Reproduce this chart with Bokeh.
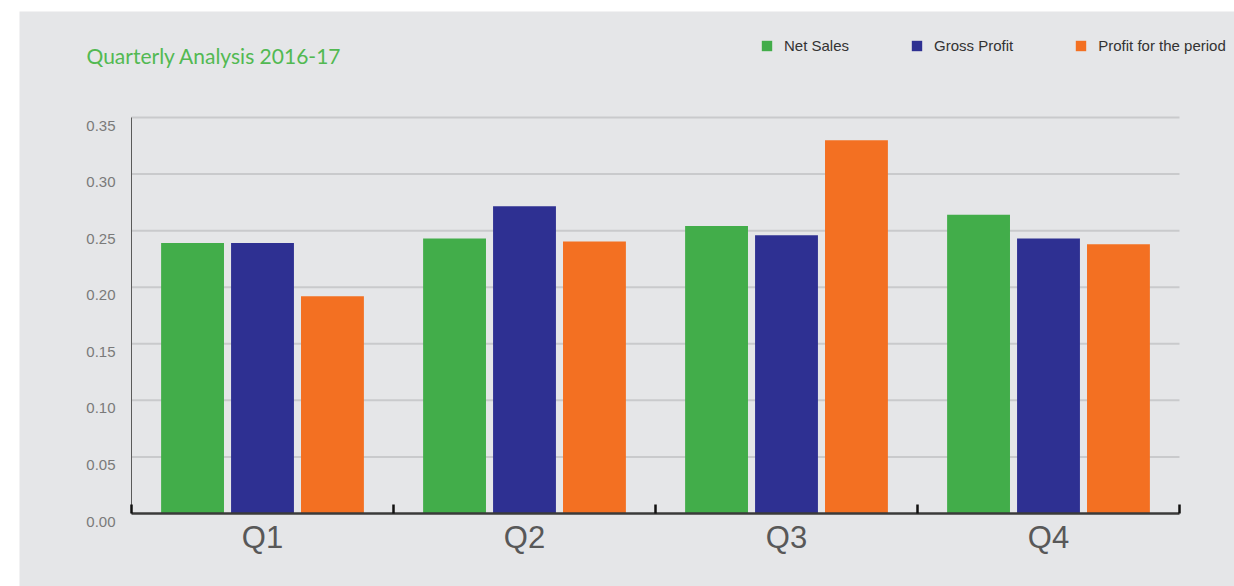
import math
from bokeh.plotting import figure
from bokeh.models import ColumnDataSource, Legend, LegendItem, Label, Spacer
from bokeh.layouts import column, row
from bokeh.transform import dodge
from bokeh.embed import file_html
from bokeh.resources import INLINE

quarters = ["Q1", "Q2", "Q3", "Q4"]
net_sales = [0.239, 0.243, 0.254, 0.264]
gross_profit = [0.239, 0.2715, 0.246, 0.243]
profit_period = [0.192, 0.2405, 0.330, 0.238]
series_names = ["Net Sales", "Gross Profit", "Profit for the period"]
series_colors = ["#42ad4a", "#2e3092", "#f37022"]
y_ticks = [0.0, 0.05, 0.10, 0.15, 0.20, 0.25, 0.30, 0.35]
title_text = "Quarterly Analysis 2016-17"

BG = "#e5e6e8"
W, H = 1215, 575          # figure size (page offset 19, 11)
FL, FB = 112, 73          # pixel position of the axes origin inside the figure
PX_X = 262.0              # pixels per quarter
Y_MAX = 0.35
PX_Y = 396.0 / Y_MAX      # pixels per unit value

n = len(quarters)
centers = [i + 0.5 for i in range(n)]
bounds = list(range(n + 1))

p = figure(width=W, height=H, output_backend="svg", toolbar_location=None,
           x_range=(-FL / PX_X, (W - FL) / PX_X), y_range=(-FB / PX_Y, (H - FB) / PX_Y),
           x_axis_location=None, y_axis_location=None)
p.min_border = 0
p.background_fill_color = BG
p.border_fill_color = BG
p.outline_line_color = None
p.xgrid.visible = False
p.ygrid.visible = False

# horizontal grid lines
grid_src = ColumnDataSource(dict(y=y_ticks[1:], x0=[0] * (len(y_ticks) - 1), x1=[n] * (len(y_ticks) - 1)))
p.segment(x0="x0", x1="x1", y0="y", y1="y", source=grid_src, line_color="#c9cacc", line_width=2)

# bars
src = ColumnDataSource(dict(x=centers, net=net_sales, gross=gross_profit, prof=profit_period))
offs = [-0.267, 0.0, 0.267]
renderers = []
for col, off, c in zip(["net", "gross", "prof"], offs, series_colors):
    r = p.vbar(x=dodge("x", off), top=col, width=0.24, source=src, fill_color=c, line_color=None)
    renderers.append(r)

# axes lines
p.segment(x0=[0], x1=[0], y0=[0], y1=[Y_MAX], line_color="#5a5a5a", line_width=1)
p.segment(x0=[0], x1=[n], y0=[0], y1=[0], line_color="#3a3a3a", line_width=2.5)
# boundary ticks pointing up
p.ray(x=bounds, y=[0] * len(bounds), length=9, length_units="screen", angle=math.pi / 2,
      line_color="#111111", line_width=2.5)

# x labels
p.text(x=centers, y=[0] * n, text=quarters, x_offset=0, y_offset=6,
       text_align="center", text_baseline="top", text_font={"value": "Liberation Sans"},
       text_font_size="31px", text_color="#585858")

# y labels (printed slightly below their grid lines, as in the original)
p.text(x=[0] * len(y_ticks), y=y_ticks, text=["%.2f" % v for v in y_ticks],
       x_offset=-16, y_offset=8, text_align="right", text_baseline="middle",
       text_font={"value": "Liberation Sans"}, text_font_size="15px", text_color="#7a7a7a")

# title
p.add_layout(Label(x=86 - 19, y=H - (55 - 11), x_units="screen", y_units="screen", text=title_text,
                   text_font="Lato", text_font_size="21px",
                   text_color="#52b952", text_baseline="middle"))

legend = Legend(items=[LegendItem(label=nm, renderers=[r]) for nm, r in zip(series_names, renderers)],
                orientation="horizontal", location=(760 - 19, H - (55 - 11)),
                glyph_width=13, glyph_height=13, label_standoff=11, spacing=61,
                label_height=20, padding=0, margin=0, border_line_color=None,
                background_fill_alpha=0,
                label_text_font="Liberation Sans", label_text_font_size="15px",
                label_text_color="#333333")
p.add_layout(legend)

layout = column(Spacer(height=11), row(Spacer(width=19), p, spacing=0), spacing=0)
open("out.html", "w").write(file_html(layout, INLINE))
